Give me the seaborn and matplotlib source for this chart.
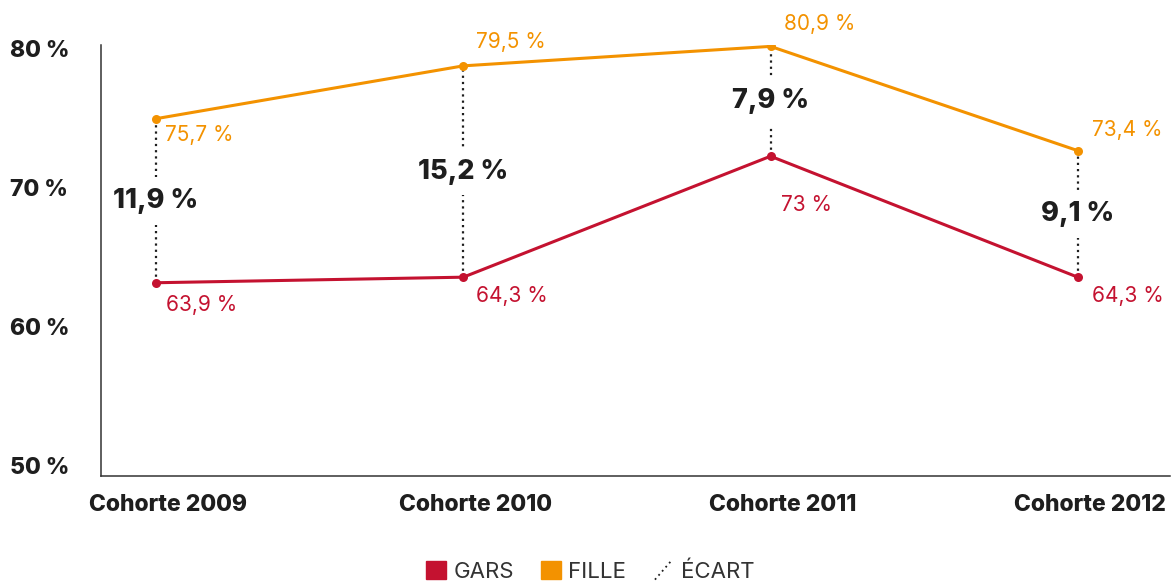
import numpy as np
import pandas as pd
import matplotlib
matplotlib.use("Agg")
import matplotlib.pyplot as plt
import seaborn as sns
from matplotlib.patches import Patch
from matplotlib.lines import Line2D
from matplotlib.legend_handler import HandlerBase
from matplotlib.transforms import ScaledTranslation

# donnees
cohortes = ["Cohorte 2009", "Cohorte 2010", "Cohorte 2011", "Cohorte 2012"]
fille = [75.7, 79.5, 80.9, 73.4]
gars = [63.9, 64.3, 73.0, 64.3]
ecart = [11.9, 15.2, 7.9, 9.1]
yticks = [50, 60, 70, 80]

ROUGE = "#c41230"
ORANGE = "#f39200"
NOIR = "#1e1e1e"

sns.set_theme(style="white")
plt.rcParams["font.family"] = ["Inter", "DejaVu Sans"]

df = pd.DataFrame({
    "cohorte": cohortes * 2,
    "taux": gars + fille,
    "groupe": ["GARS"] * 4 + ["FILLE"] * 4,
})

fig = plt.figure(figsize=(11.73, 5.83), dpi=100)
ax = fig.add_axes([101 / 1173, 1 - 476 / 583, (1170 - 101) / 1173, (476 - 45) / 583])

sns.lineplot(data=df, x="cohorte", y="taux", hue="groupe",
             palette={"GARS": ROUGE, "FILLE": ORANGE}, marker="o",
             markersize=6.5, markeredgewidth=0, linewidth=2.2, legend=False, ax=ax)

ax.set_xlim(-0.179, 3.30)
ax.set_ylim(50, 81)

# lignes pointillees d'ecart + etiquettes
for i, (f, g, e) in enumerate(zip(fille, gars, ecart)):
    ax.plot([i, i], [g, f], color=NOIR, linestyle=(0, (1, 1.8)), linewidth=1.6, zorder=1)
    ax.text(i, (f + g) / 2, f"{e:g}".replace(".", ",") + " %", ha="center", va="center",
            fontsize=19.5, fontweight="heavy", color=NOIR, zorder=3,
            bbox=dict(boxstyle="square,pad=0.4", fc="white", ec="none"))

def fmt(v):
    return f"{v:g}".replace(".", ",") + " %"

off_fille = [(9, -16), (13, 24), (13, 22), (14, 21)]
off_gars = [(10, -22), (13, -19), (10, -49), (14, -19)]
for i in range(len(cohortes)):
    ax.annotate(fmt(fille[i]), (i, fille[i]), xytext=off_fille[i], textcoords="offset pixels",
                ha="left", va="center", fontsize=15, color=ORANGE)
    ax.annotate(fmt(gars[i]), (i, gars[i]), xytext=off_gars[i], textcoords="offset pixels",
                ha="left", va="center", fontsize=15, color=ROUGE)

ax.set_yticks(yticks)
ax.set_yticklabels([f"{t} %" for t in yticks])
ax.set_xlabel("")
ax.set_ylabel("")
ax.tick_params(axis="y", length=0, pad=65.5, labelsize=16.5, labelcolor=NOIR)
ax.tick_params(axis="x", length=0, pad=13, labelsize=16.5, labelcolor=NOIR)
for lab in ax.get_yticklabels():
    lab.set_ha("left")
    lab.set_fontweight("heavy")
    lab.set_transform(lab.get_transform() + ScaledTranslation(0, 10 / 100, fig.dpi_scale_trans))
for lab in ax.get_xticklabels():
    lab.set_fontweight("heavy")
    lab.set_transform(lab.get_transform() + ScaledTranslation(12 / 100, 0, fig.dpi_scale_trans))

sns.despine(ax=ax)
for s in ["left", "bottom"]:
    ax.spines[s].set_color("#333333")
    ax.spines[s].set_linewidth(1.1)


class HandlerDiag(HandlerBase):
    def create_artists(self, legend, orig_handle, xdescent, ydescent, width, height, fontsize, trans):
        line = Line2D([width * 0.1, width * 0.9], [-height * 0.1, height * 0.9],
                      color=NOIR, linestyle=(0, (1, 2)), linewidth=1.3, transform=trans)
        return [line]


handles = [Patch(color=ROUGE), Patch(color=ORANGE), Line2D([], [])]
leg = fig.legend(handles, ["GARS", "FILLE", "ÉCART"], loc="center", bbox_to_anchor=(0.503, 0.02),
                 ncol=3, frameon=False, fontsize=16, handlelength=0.9, handleheight=0.9,
                 handletextpad=0.35, columnspacing=1.2,
                 handler_map={Line2D: HandlerDiag()})
for t in leg.get_texts():
    t.set_color("#333333")

fig.savefig("out.png", dpi=100)
